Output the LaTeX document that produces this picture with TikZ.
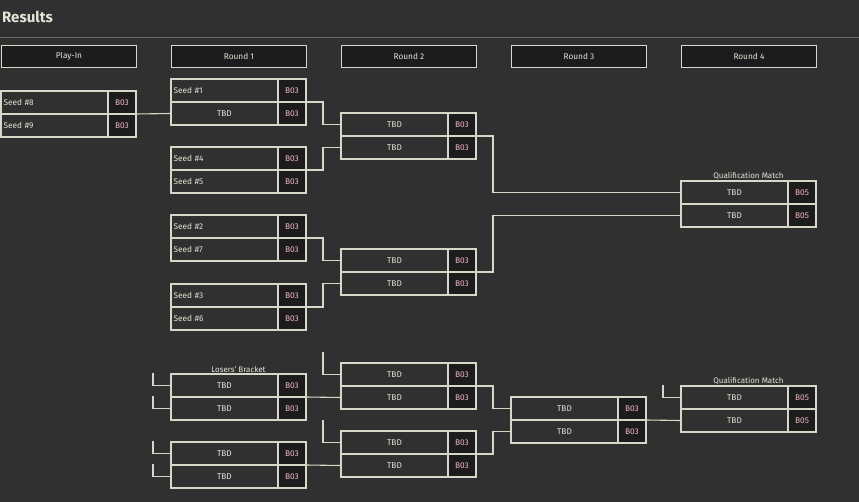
\documentclass[tikz,border=0pt]{standalone}
\usepackage{fontspec}
\setmainfont{Fira Sans}
\usetikzlibrary{positioning}
\definecolor{bgc}{HTML}{303030}
\definecolor{wirec}{HTML}{D8D6C6}
\definecolor{darkc}{HTML}{1C1C1C}
\definecolor{boc}{HTML}{F2B5C8}
\definecolor{txtc}{HTML}{E6E4D6}
\tikzset{
    slot/.style={rectangle, draw=wirec, fill=bgc, line width=1.1pt, minimum width=107pt, minimum height=23pt, inner sep=0pt, outer sep=0pt, text=txtc, font=\fontsize{8.3}{10}\selectfont, anchor=north west},
    seed/.style={slot, text width=102pt, align=left},
    bo/.style={rectangle, draw=wirec, fill=darkc, line width=1.1pt, minimum width=28pt, minimum height=23pt, inner sep=0pt, outer sep=0pt, text=boc, font=\fontsize{8.3}{10}\selectfont},
    head/.style={rectangle, draw=wirec, fill=darkc, line width=1pt, minimum width=135pt, minimum height=22pt, inner sep=0pt, anchor=north west, text=txtc, font=\fontsize{8.3}{10}\selectfont},
    mcap/.style={text=txtc, font=\fontsize{8}{10}\selectfont, inner sep=0pt, anchor=south},
    wire/.style={draw=wirec, line width=1.1pt},
}
% #1 name, #2 position, #3 top text, #4 bottom text, #5 top style, #6 bottom style, #7 series
\newcommand{\match}[7]{
  \node[#5] (#1t) at #2 {#3};
  \node[bo, right=0pt of #1t] (#1tb) {#7};
  \node[#6, below=0pt of #1t.south west, anchor=north west] (#1b) {#4};
  \node[bo, right=0pt of #1b] (#1bb) {#7};
}
\begin{document}
\begin{tikzpicture}[x=1pt, y=-1pt]
  \fill[bgc] (0,0) rectangle (859,502);
  \useasboundingbox (0,0) rectangle (859,502);
  \node[anchor=west, text=txtc, font=\bfseries\fontsize{15}{18}\selectfont, inner sep=0pt] (title) at (2,17) {Results};
  \draw[draw=gray!70!bgc, line width=0.8pt] (0,37) -- (859,37);

  % headers
  \node[head] (hp) at (1,45) {Play-In};
  \node[head] (h1) at (171,45) {Round 1};
  \node[head] (h2) at (341,45) {Round 2};
  \node[head] (h3) at (511,45) {Round 3};
  \node[head] (h4) at (681,45) {Round 4};

  % connectors
  \coordinate (s1) at (153,373);
  \coordinate (s2) at (153,396);
  \coordinate (s3) at (153,441);
  \coordinate (s4) at (153,464);
  \coordinate (s5) at (323,352);
  \coordinate (s6) at (323,420);
  \coordinate (s7) at (663,385);

  % winners bracket
  \match{p}{(1,91)}{Seed \#8}{Seed \#9}{seed}{seed}{B03}
  \match{ra}{(171,79)}{Seed \#1}{TBD}{seed}{slot}{B03}
  \match{rb}{(171,147)}{Seed \#4}{Seed \#5}{seed}{seed}{B03}
  \match{rc}{(171,215)}{Seed \#2}{Seed \#7}{seed}{seed}{B03}
  \match{rd}{(171,284)}{Seed \#3}{Seed \#6}{seed}{seed}{B03}
  \match{sa}{(341,113)}{TBD}{TBD}{slot}{slot}{B03}
  \match{sb}{(341,249)}{TBD}{TBD}{slot}{slot}{B03}
  \match{q}{(681,181)}{TBD}{TBD}{slot}{slot}{B05}
  \node[mcap] (qcap) at ([xshift=67.5pt, yshift=1pt]qt.north west) {Qualification Match};

  % losers bracket
  \match{la}{(171,374)}{TBD}{TBD}{slot}{slot}{B03}
  \match{lb}{(171,442)}{TBD}{TBD}{slot}{slot}{B03}
  \node[mcap] (lcap) at ([xshift=67.5pt, yshift=1pt]lat.north west) {Losers' Bracket};
  \match{ma}{(341,363)}{TBD}{TBD}{slot}{slot}{B03}
  \match{mb}{(341,431)}{TBD}{TBD}{slot}{slot}{B03}
  \match{n}{(511,397)}{TBD}{TBD}{slot}{slot}{B03}
  \match{o}{(681,386)}{TBD}{TBD}{slot}{slot}{B05}
  \node[mcap] (ocap) at ([xshift=67.5pt, yshift=1pt]ot.north west) {Qualification Match};

  \draw[wire] (ptb.south east) -- (rab.west);
  \draw[wire] (ratb.south east) -- ++(17,0) |- (sat.west);
  \draw[wire] (rbtb.south east) -- ++(17,0) |- (sab.west);
  \draw[wire] (rctb.south east) -- ++(17,0) |- (sbt.west);
  \draw[wire] (rdtb.south east) -- ++(17,0) |- (sbb.west);
  \draw[wire] (satb.south east) -- ++(17,0) |- (qt.west);
  \draw[wire] (sbtb.south east) -- ++(17,0) |- (qb.west);
  \draw[wire] (latb.south east) -- (mab.west);
  \draw[wire] (lbtb.south east) -- (mbb.west);
  \draw[wire] (matb.south east) -- ++(17,0) |- (nt.west);
  \draw[wire] (mbtb.south east) -- ++(17,0) |- (nb.west);
  \draw[wire] (ntb.south east) -- (ob.west);
  \draw[wire] (s1) |- (lat.west);
  \draw[wire] (s2) |- (lab.west);
  \draw[wire] (s3) |- (lbt.west);
  \draw[wire] (s4) |- (lbb.west);
  \draw[wire] (s5) |- (mat.west);
  \draw[wire] (s6) |- (mbt.west);
  \draw[wire] (s7) |- (ot.west);
\end{tikzpicture}
\end{document}
